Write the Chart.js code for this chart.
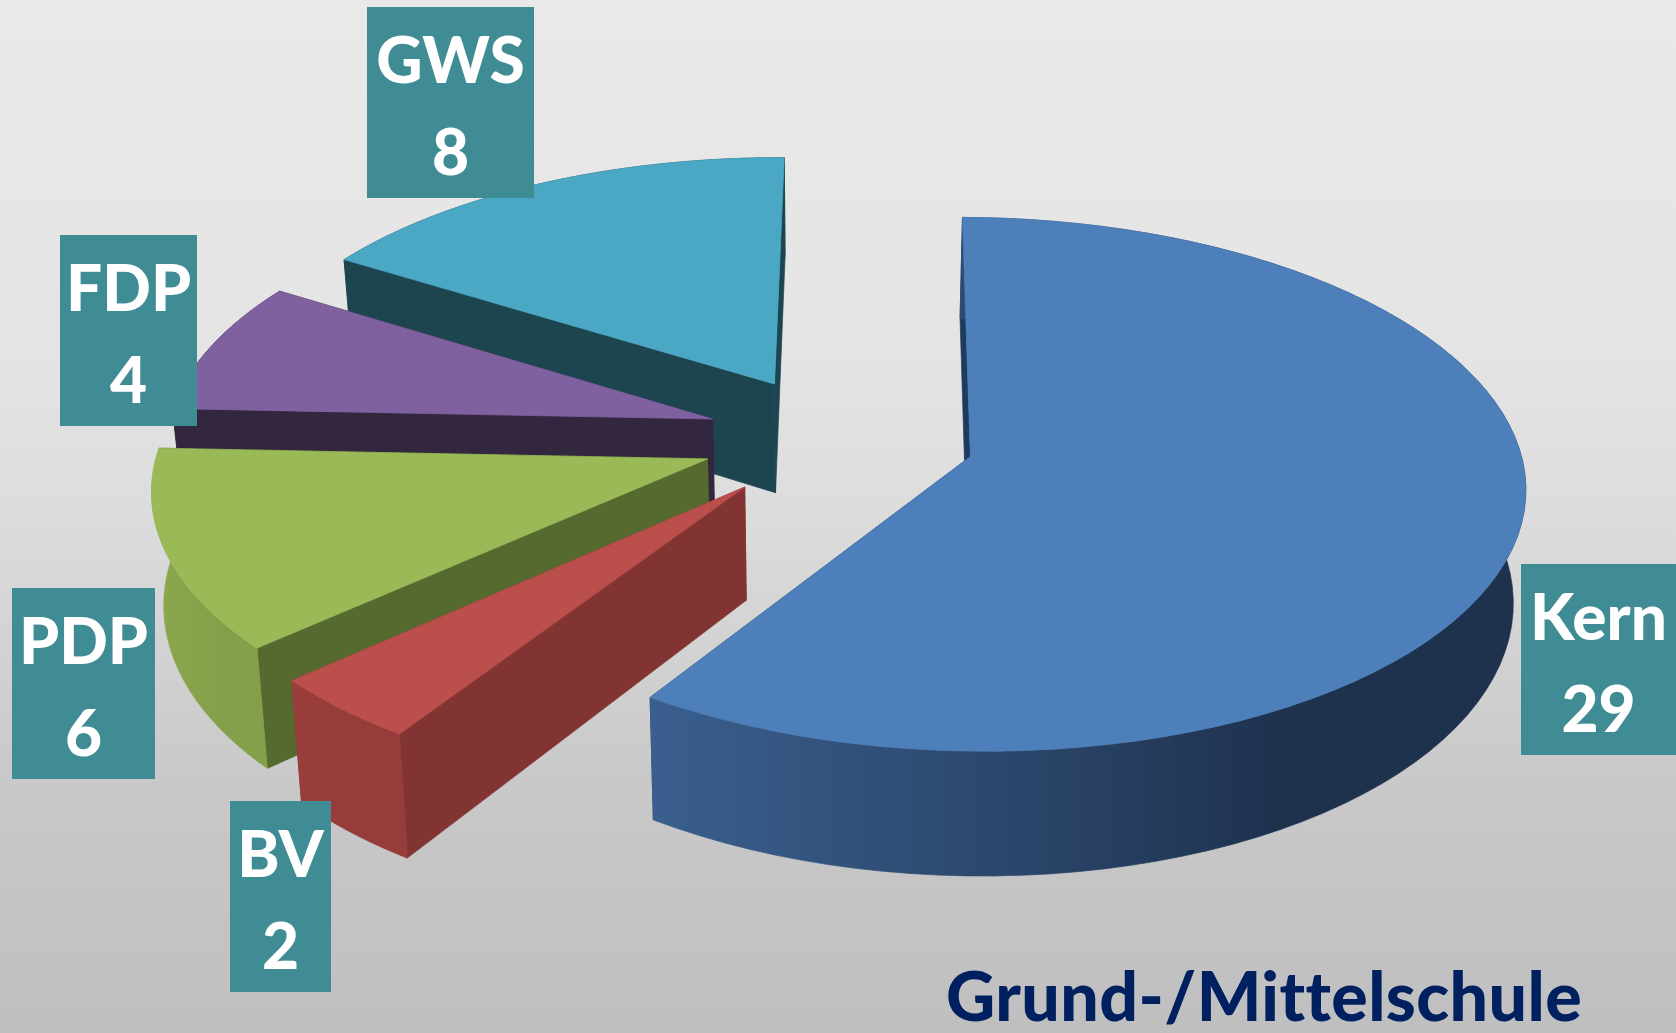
<!DOCTYPE html>
<html>
<head>
<meta charset="utf-8">
<title>Grund-/Mittelschule</title>
<script src="https://cdn.jsdelivr.net/npm/chart.js@4"></script>
<style>
    html, body { margin: 0; padding: 0; overflow: hidden; }
    body { width: 1676px; height: 1033px; background: linear-gradient(#e9e9e9 0%, #e4e4e4 35%, #dcdcdc 50%, #c9c9c9 75%, #bfbfbf 100%); }
    canvas { display: block; }
</style>
</head>
<body>
<canvas id="canvasSingle" width="1676" height="1033"></canvas>
<script>
const parteien = ['Kern', 'BV', 'PDP', 'FDP', 'GWS'];
const sitze = [29, 2, 6, 4, 8];
const titel = 'Grund-/Mittelschule';

const topColors = ['#4d7fba', '#ba4f4c', '#9aba58', '#7f61a0', '#4aa8c4'];
const cutColors = ['#1e3a5c', '#813432', '#566a2f', '#33263f', '#1d4550'];
const rimColors = [['#3a5f8e', '#2a4468', '#1e324e'], ['#9a3d3b', '#963c3a', '#963c3a'], ['#8ba94e', '#86a24a', '#839f49'], ['#33263f', '#33263f', '#33263f'], ['#1d4550', '#1d4550', '#1d4550']];
const offsets = [102, 100, 99, 95, 95];
// label boxes: left, top, right, bottom
const boxes = [[1521, 564, 1676, 755], [230, 801, 331, 992], [12, 588, 155, 779], [60, 235, 197, 426], [367, 7, 534, 198]];

// flat pie -> screen, camera looks down on the pie
const cam = { cx: 836, cy: 437, f: 547, a: 260, px: 0.10, p: 0.103, depth: 111, vx: 830, squeeze: 0.982 };

function project(u, v, low) {
    const w = 1 / (1 - cam.p * v);
    let x = cam.cx + cam.f * u / (1 - cam.px * v);
    let y = cam.cy + cam.a * v * w;
    if (low) {
        x = cam.vx + (x - cam.vx) * cam.squeeze;
        y = y + cam.depth * w;
    }
    return [x, y];
}

function fillPoly(ctx, pts, style) {
    ctx.beginPath();
    pts.forEach((p, i) => i ? ctx.lineTo(p[0], p[1]) : ctx.moveTo(p[0], p[1]));
    ctx.closePath();
    ctx.fillStyle = style;
    ctx.fill();
    ctx.strokeStyle = style;
    ctx.lineWidth = 0.7;
    ctx.stroke();
}

const pie3d = {
    id: 'pie3d',
    beforeDraw(chart) {
        // keeps "tt" apart in the title
        chart.ctx.letterSpacing = '0.4px';
    },
    beforeDatasetsDraw(chart) {
        const ctx = chart.ctx;
        const arcs = chart.getDatasetMeta(0).data;
        // back to front: GWS first, Kern last
        for (let i = arcs.length - 1; i >= 0; i--) {
            const el = arcs[i];
            const R = el.outerRadius;
            const mid = (el.startAngle + el.endAngle) / 2;
            const ou = Math.cos(mid) * el.options.offset / R;
            const ov = Math.sin(mid) * el.options.offset / R;
            const rimAt = a => [ou + Math.cos(a), ov + Math.sin(a)];
            const steps = 80;
            let rim = [];
            for (let s = 0; s <= steps; s++) {
                rim.push(rimAt(el.startAngle + (el.endAngle - el.startAngle) * s / steps));
            }
            const apexTop = project(ou, ov, false);
            const apexLow = project(ou, ov, true);
            const rimTop = rim.map(p => project(p[0], p[1], false));
            const rimLow = rim.map(p => project(p[0], p[1], true));

            fillPoly(ctx, [apexTop, rimTop[0], rimLow[0], apexLow], cutColors[i]);
            fillPoly(ctx, [apexTop, rimTop[steps], rimLow[steps], apexLow], cutColors[i]);

            const xs = rimTop.map(p => p[0]);
            const g = ctx.createLinearGradient(Math.min(...xs), 0, Math.max(...xs), 0);
            g.addColorStop(0, rimColors[i][0]);
            g.addColorStop(0.45, rimColors[i][1]);
            g.addColorStop(0.72, rimColors[i][2]);
            g.addColorStop(1, rimColors[i][2]);
            fillPoly(ctx, rimTop.concat(rimLow.slice().reverse()), g);

            fillPoly(ctx, [apexTop].concat(rimTop), topColors[i]);
        }
        return false;
    },
    afterDraw(chart) {
        const ctx = chart.ctx;
        ctx.save();
        ctx.textAlign = 'center';
        ctx.textBaseline = 'alphabetic';
        ctx.font = '900 64px Lato';
        ctx.letterSpacing = '0px';
        chart.data.labels.forEach((name, i) => {
            const b = boxes[i];
            ctx.fillStyle = '#3f8c94';
            ctx.fillRect(b[0], b[1], b[2] - b[0], b[3] - b[1]);
            ctx.fillStyle = '#ffffff';
            const mx = (b[0] + b[2]) / 2;
            ctx.fillText(name, mx, b[1] + 76);
            ctx.fillText(String(chart.data.datasets[0].data[i]), mx, b[1] + 168);
        });
        ctx.restore();
    }
};

new Chart(document.getElementById('canvasSingle'), {
    type: 'pie',
    data: {
        labels: parteien,
        datasets: [{
            data: sitze,
            backgroundColor: topColors,
            borderWidth: 0,
            offset: offsets
        }]
    },
    options: {
        responsive: false,
        animation: false,
        events: [],
        rotation: 0.5,
        radius: 400,
        layout: { padding: { right: 94 } },
        plugins: {
            legend: { display: false },
            tooltip: { enabled: false },
            title: {
                display: true,
                text: titel,
                position: 'bottom',
                align: 'end',
                color: '#002060',
                padding: 0,
                font: { family: 'Lato', size: 68, weight: '900', lineHeight: 1 }
            }
        }
    },
    plugins: [pie3d]
});
</script>
</body>
</html>
